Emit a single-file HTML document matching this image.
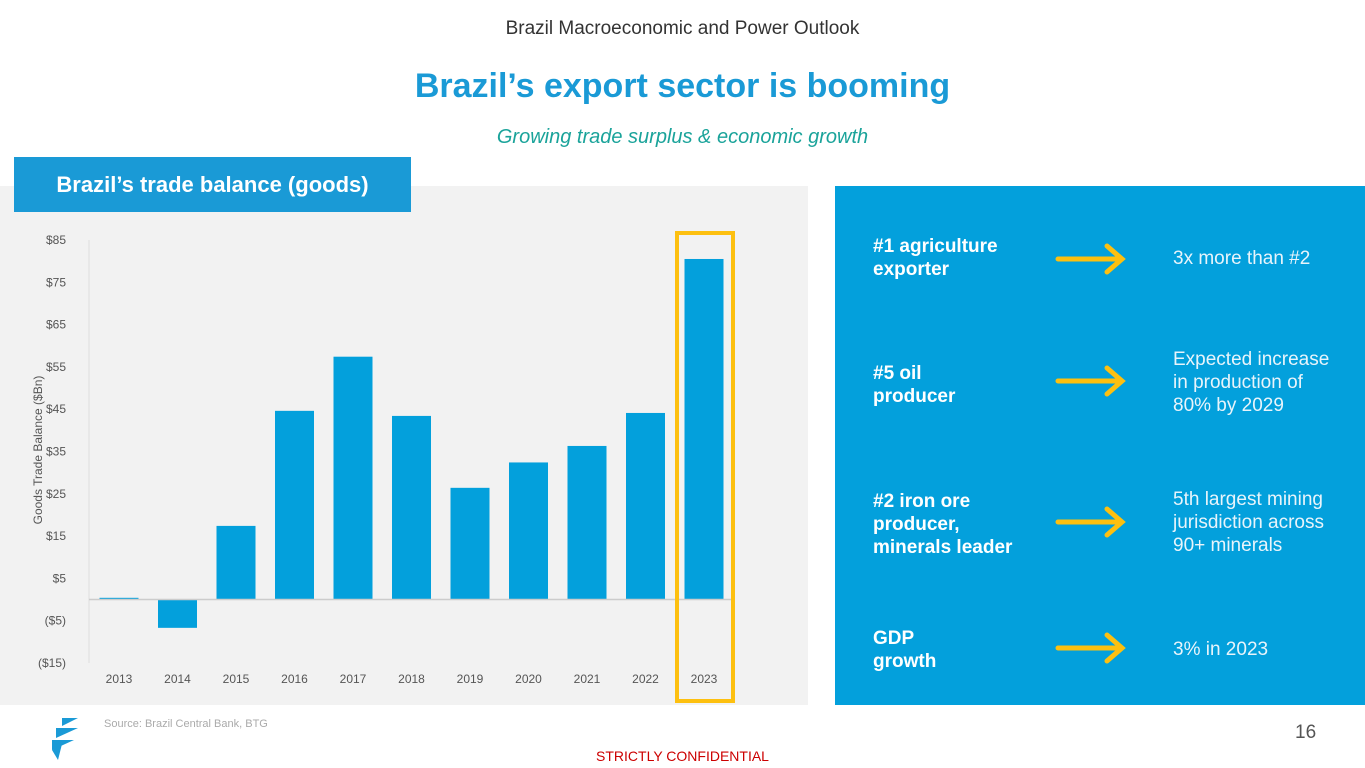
<!DOCTYPE html>
<html><head><meta charset="utf-8"><style>
body{margin:0;width:1365px;height:768px;background:#fff;position:relative;overflow:hidden;font-family:"Liberation Sans",sans-serif}
.abs{position:absolute}
.item{position:absolute;color:#fff;font-size:19px;line-height:23px}
.l{left:873px;font-weight:bold}
.r{left:1173px;color:#e8f4fb}
</style></head><body>
<div class="abs" style="left:0;width:1365px;top:18px;text-align:center;font-size:19px;color:#333">Brazil Macroeconomic and Power Outlook</div>
<div class="abs" style="left:0;width:1365px;top:67px;text-align:center;font-size:34px;font-weight:bold;color:#1a9ad6">Brazil’s export sector is booming</div>
<div class="abs" style="left:0;width:1365px;top:126px;text-align:center;font-size:20px;font-style:italic;color:#1aa39a">Growing trade surplus &amp; economic growth</div>
<div class="abs" style="left:0;top:186px;width:808px;height:519px;background:#f2f2f2"></div>
<div class="abs" style="left:14px;top:157px;width:397px;height:55px;background:#1a9ad6;color:#fff;font-size:22px;font-weight:bold;line-height:55px;text-align:center">Brazil’s trade balance (goods)</div>
<svg class="abs" style="left:0;top:0" width="810" height="768" id="chart"></svg>
<div class="abs" style="left:835px;top:186px;width:530px;height:519px;background:#03a0dc"></div>
<div class="item l" style="top:235px">#1 agriculture<br>exporter</div>
<div class="item r" style="top:247px">3x more than #2</div>
<div class="item l" style="top:362px">#5 oil<br>producer</div>
<div class="item r" style="top:348px">Expected increase<br>in production of<br>80% by 2029</div>
<div class="item l" style="top:490px">#2 iron ore<br>producer,<br>minerals leader</div>
<div class="item r" style="top:488px">5th largest mining<br>jurisdiction across<br>90+ minerals</div>
<div class="item l" style="top:627px">GDP<br>growth</div>
<div class="item r" style="top:638px">3% in 2023</div>
<svg class="abs" style="left:1055px;top:240px" width="75" height="430">
<g fill="none" stroke="#fdc010" stroke-width="5" stroke-linecap="round">
<path d="M3 19H65M52 6L67 19L52 32"/><path d="M3 141H65M52 128L67 141L52 154"/><path d="M3 282H65M52 269L67 282L52 295"/><path d="M3 408H65M52 395L67 408L52 421"/></g></svg>
<svg class="abs" style="left:48px;top:718px" width="32" height="42"><g fill="#1a9ad6"><path d="M14 0L30 0L14 8Z"/><path d="M8 10L30 10L8 20Z"/><path d="M4 22L26 22L4 32Z"/><path d="M4 32L14 26L10 42Z"/></g></svg>
<div class="abs" style="left:104px;top:718px;font-size:11px;color:#aaa">Source: Brazil Central Bank, BTG</div>
<div class="abs" style="left:1295px;top:722px;font-size:19px;color:#555">16</div>
<div class="abs" style="left:0;width:1365px;top:748px;text-align:center;font-size:14px;color:#c00">STRICTLY CONFIDENTIAL</div>
<script>
const years=["2013","2014","2015","2016","2017","2018","2019","2020","2021","2022","2023"];
const values=[0.4,-6.7,17.4,44.6,57.4,43.4,26.4,32.4,36.3,44.1,80.5];
const ticks=[85,75,65,55,45,35,25,15,5,-5,-15];
const tickLabels=["$85","$75","$65","$55","$45","$35","$25","$15","$5","($5)","($15)"];
const NS="http://www.w3.org/2000/svg",svg=document.getElementById('chart');
const y=v=>599.5-v*4.23, x=i=>119+i*58.5;
function mk(t,a){const e=document.createElementNS(NS,t);for(const k in a)e.setAttribute(k,a[k]);svg.appendChild(e);return e;}
ticks.forEach((t,i)=>{const e=mk('text',{x:66,y:y(t)+4,'text-anchor':'end','font-size':12,fill:'#555'});e.textContent=tickLabels[i];

});
const ax=mk('line',{x1:89,x2:89,y1:y(85),y2:y(-15),stroke:'#ddd'});


values.forEach((v,i)=>{const r=mk('rect',{x:x(i)-19.5,width:39,y:Math.min(y(v),y(0)),height:Math.abs(y(v)-y(0)),fill:'#03a0dc'});


const t=mk('text',{x:x(i),y:683,'text-anchor':'middle','font-size':12,fill:'#555'});t.textContent=years[i];

});
const z=mk('line',{x1:89,x2:733,y1:y(0),y2:y(0),stroke:'#ccc','stroke-width':1.5});


const hl=mk('rect',{x:x(10)-27,y:233,width:56,height:468,fill:'none',stroke:'#fdc010','stroke-width':4});


const yt=mk('text',{x:0,y:0,transform:'translate(42,450) rotate(-90)','text-anchor':'middle','font-size':12,fill:'#555'});yt.textContent='Goods Trade Balance ($Bn)';


</script>
</body></html>
